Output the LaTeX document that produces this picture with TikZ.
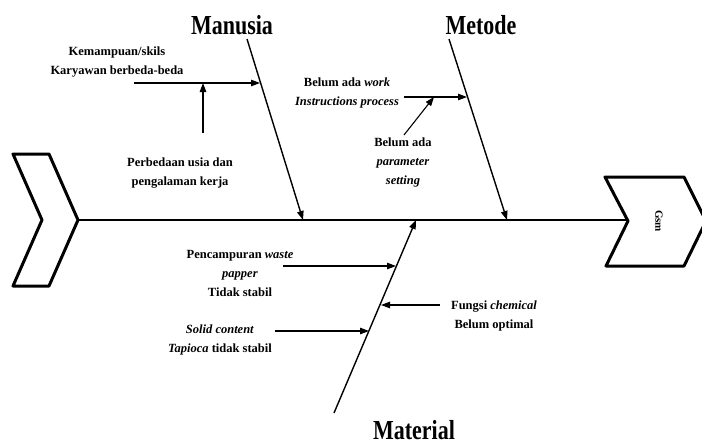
\documentclass[tikz,border=0pt]{standalone}
\usepackage{fontspec}
\setmainfont{Liberation Serif}
\usepackage{tikz}
\usetikzlibrary{arrows.meta}
\pgfdeclarelayer{nodelayer}
\pgfdeclarelayer{edgelayer}
\pgfsetlayers{nodelayer,edgelayer,main}
\newcommand{\tallword}[1]{\scalebox{1}[1.25]{#1}}
\tikzset{
  bone/.style={line width=1.4pt, -{Triangle[length=9pt,width=6.5pt]}},
  twig/.style={line width=1.1pt, -{Triangle[length=9pt,width=6.5pt]}},
  fin/.style={line width=3pt, line join=round},
  cause/.style={align=center, font=\bfseries\fontsize{12.5}{19}\selectfont},
  group/.style={font=\bfseries\fontsize{22}{24}\selectfont}
}
\begin{document}
\begin{tikzpicture}[x=1pt, y=-1pt]
  \useasboundingbox (0,0) rectangle (702,447);
  \begin{pgfonlayer}{nodelayer}
    \node [group] (0) at (232, 25) {\tallword{Manusia}};
    \node [group] (1) at (481, 25) {\tallword{Metode}};
    \node [group] (2) at (414, 430) {\tallword{Material}};
    \node [rotate=-90, font=\bfseries\fontsize{11}{12}\selectfont] (3) at (659, 221) {Gsm};
    \node [cause] (4) at (117, 62) {Kemampuan/skils\\Karyawan berbeda-beda};
    \node [cause] (5) at (180, 173) {Perbedaan usia dan\\pengalaman kerja};
    \node [cause] (6) at (347, 93) {Belum ada \textit{work}\\\textit{Instructions process}};
    \node [cause] (7) at (403, 162) {Belum ada\\\textit{parameter}\\\textit{setting}};
    \node [cause] (8) at (240, 273) {Pencampuran \textit{waste}\\\textit{papper}\\Tidak stabil};
    \node [cause] (9) at (220, 340) {\textit{Solid content}\\\textit{Tapioca} tidak stabil};
    \node [cause] (10) at (494, 316) {Fungsi \textit{chemical}\\Belum optimal};
    % spine and bones
    \coordinate (s0) at (78, 220);
    \coordinate (s1) at (628, 220);
    \coordinate (m0) at (247, 39);
    \coordinate (m1) at (303, 220);
    \coordinate (t0) at (449, 39);
    \coordinate (t1) at (507, 220);
    \coordinate (a0) at (334, 413);
    \coordinate (a1) at (416, 220);
    % sub causes
    \coordinate (k0) at (134, 83);
    \coordinate (k1) at (260, 83);
    \coordinate (p0) at (203, 133);
    \coordinate (p1) at (203, 83);
    \coordinate (w0) at (404, 97);
    \coordinate (w1) at (467, 97);
    \coordinate (q0) at (404, 135);
    \coordinate (q1) at (434, 97);
    \coordinate (c0) at (283, 266);
    \coordinate (c1) at (396, 266);
    \coordinate (d0) at (275, 331);
    \coordinate (d1) at (369, 331);
    \coordinate (f0) at (440, 305);
    \coordinate (f1) at (381, 305);
  \end{pgfonlayer}
  \begin{pgfonlayer}{edgelayer}
    \draw [fin] (13, 154) -- (49, 154) -- (78, 220) -- (49, 286) -- (13, 286) -- (42, 220) -- cycle;
    \draw [fin] (605, 177) -- (684, 177) -- (706, 221) -- (684, 266) -- (606, 266) -- (628, 221) -- cycle;
    \draw [line width=2pt] (s0) -- (s1);
    \draw [bone] (m0) -- (m1);
    \draw [bone] (t0) -- (t1);
    \draw [bone] (a0) -- (a1);
    \draw [twig] (k0) -- (k1);
    \draw [twig] (p0) -- (p1);
    \draw [twig] (w0) -- (w1);
    \draw [twig] (q0) -- (q1);
    \draw [twig] (c0) -- (c1);
    \draw [twig] (d0) -- (d1);
    \draw [twig] (f0) -- (f1);
  \end{pgfonlayer}
\end{tikzpicture}
\end{document}
